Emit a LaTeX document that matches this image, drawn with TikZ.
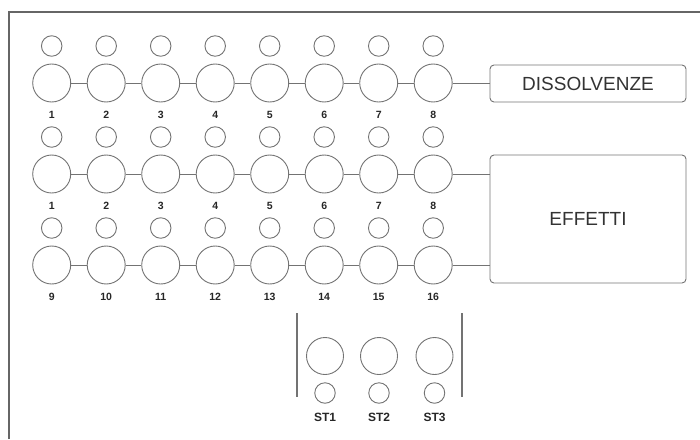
\documentclass[tikz,border=0pt]{standalone}
\usepackage{fontspec}
\setmainfont{Liberation Sans}
\usetikzlibrary{positioning}

\begin{document}
\begin{tikzpicture}[x=1pt,y=-1pt,
  knob/.style={circle,draw=black!55,line width=0.9pt,minimum size=38pt,inner sep=0pt},
  led/.style={circle,draw=black!55,line width=0.9pt,minimum size=20.5pt,inner sep=0pt},
  num/.style={font=\bfseries\fontsize{10.5}{10.5}\selectfont,text=black!85,inner sep=0pt},
  panel/.style={draw=black!55,line width=0.9pt,rounded corners=4pt,minimum width=196pt,text=black!80,font=\fontsize{19}{19}\selectfont},
  wire/.style={draw=black!55,line width=0.9pt}]

\useasboundingbox (0,0) rectangle (700,439);
\draw[black!60,line width=2pt] (9,439) -- (9,12) -- (700,12);

% channel rows
\foreach \r/\y/\n in {1/83/0,2/174/0,3/265/8} {
  \foreach \i in {1,...,8} {
    \pgfmathsetmacro\xx{51.7+54.5*(\i-1)}
    \pgfmathtruncatemacro\k{\i+\n}
    \node[knob] (b\r\i) at (\xx,\y) {};
    \node[led] (s\r\i) at (\xx,\y-37) {};
    \node[num] (l\r\i) at (\xx,\y+32) {\k};
  }
  \foreach \i [count=\j from 2] in {1,...,7}
    \draw[wire] (b\r\i) -- (b\r\j);
}

% boxes on the right
\node[panel,minimum height=37pt] (diss) at (588,83.5) {DISSOLVENZE};
\node[panel,minimum height=128pt] (eff) at (588,219) {EFFETTI};
\draw[wire] (b18.east) -- (b18.east -| diss.west);
\draw[wire] (b28.east) -- (b28.east -| eff.west);
\draw[wire] (b38.east) -- (b38.east -| eff.west);

% stereo section
\foreach \i/\x in {1/325,2/379,3/434.5} {
  \node[knob,minimum size=37pt] (st\i) at (\x,356) {};
  \node[led] (stl\i) at (\x,393) {};
  \node[num,font=\bfseries\fontsize{12}{12}\selectfont] (stn\i) at (\x,417) {ST\i};
}
\coordinate (sepa) at (297,313);
\coordinate (sepb) at (462,313);
\draw[wire,line width=1.2pt] (sepa) -- ++(0,84);
\draw[wire,line width=1.2pt] (sepb) -- ++(0,84);

\end{tikzpicture}
\end{document}
